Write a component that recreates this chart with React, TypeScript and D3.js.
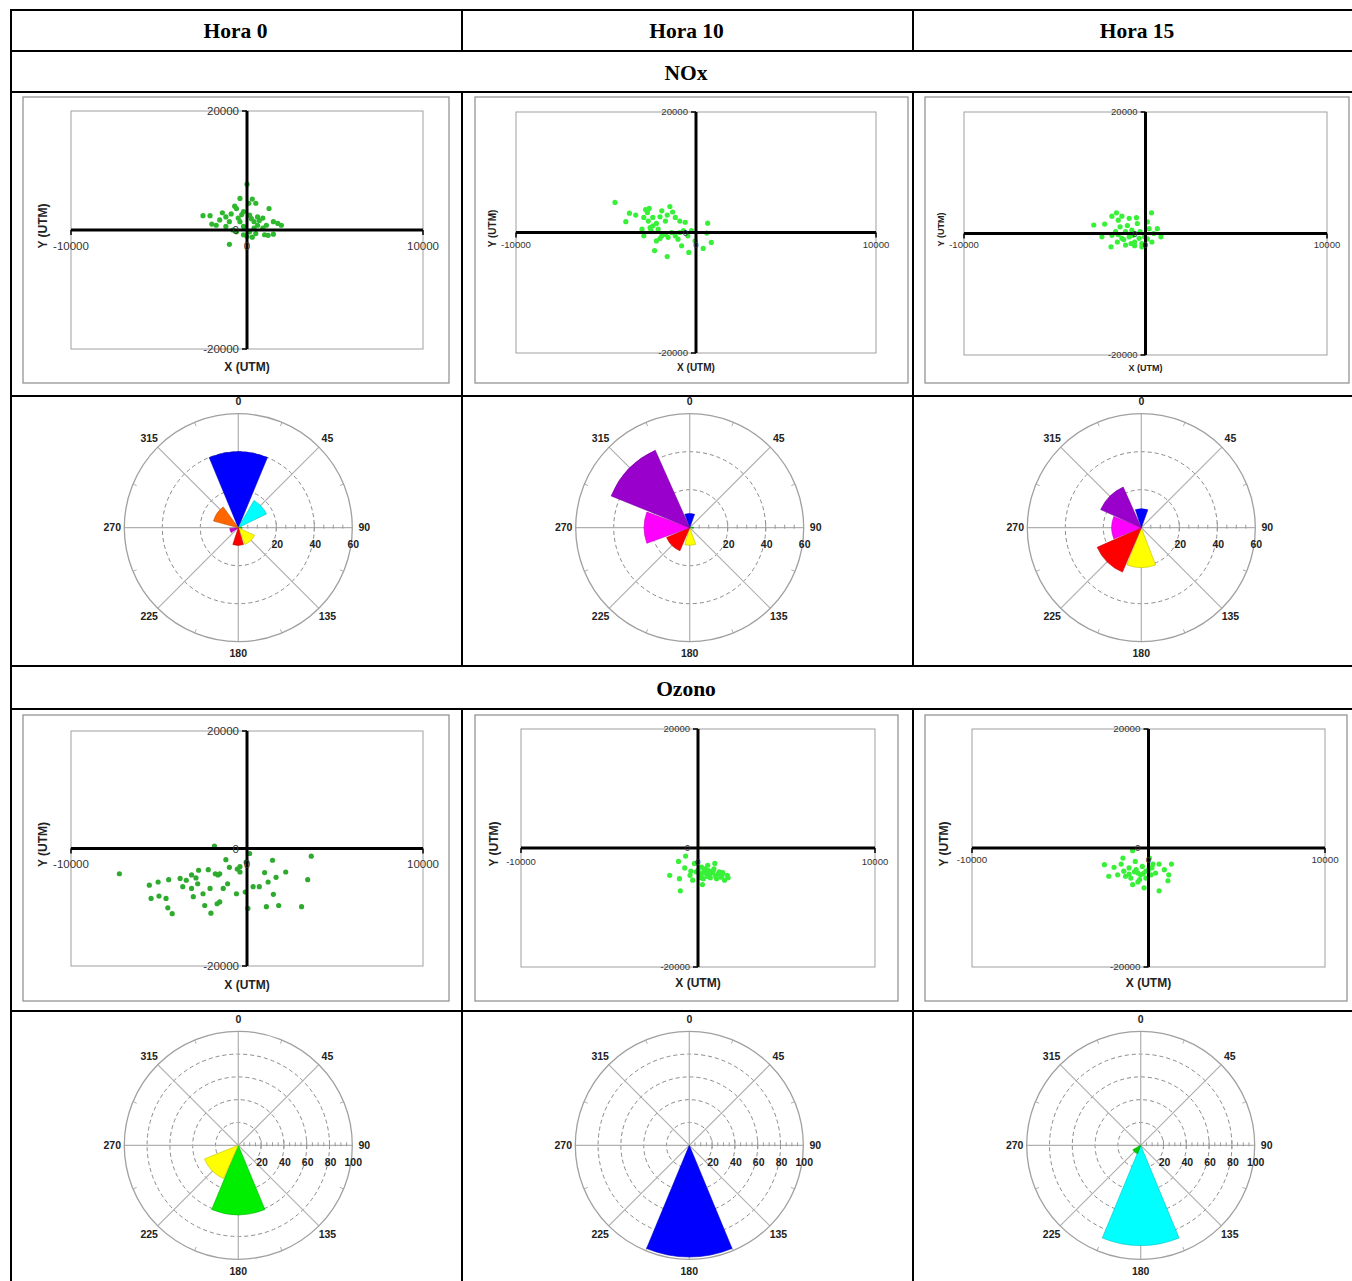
import React from "react";
import * as d3 from "d3";

// table headings
const hours = ["Hora 0", "Hora 10", "Hora 15"];
const pollutants = ["NOx", "Ozono"];

// scatter axes
const xTicks = [-10000, 0, 10000];
const yTicks = [-20000, 0, 20000];

// rose axes
const roseAngles = [0, 45, 90, 135, 180, 225, 270, 315];
const noxRings = [20, 40, 60];
const ozonoRings = [20, 40, 60, 80, 100];

// particle positions [x, y] in UTM metres
const noxH0 = [
  [0, 7700], [-400, 5300], [300, 5200], [100, 4500], [500, 4500], [-700, 4000],
  [-600, 3600], [1250, 3600], [-1400, 2900], [-200, 3100], [-2500, 2400], [-2100, 2400],
  [-1200, 2200], [-500, 2000], [150, 2500], [600, 2200], [900, 2000], [-1550, 1700],
  [-1000, 1400], [-400, 1400], [400, 1400], [1500, 1400], [-2000, 1000], [-1750, 800],
  [-1200, 600], [-200, 600], [600, 800], [1100, 800], [1750, 1100], [1950, 800],
  [-800, 0], [-600, -300], [150, -300], [500, -600], [-200, -800], [1000, -800],
  [1500, -700], [400, 300], [-1000, -2400], [0, -1100], [250, 1900], [700, 1600],
  [-300, 2600], [900, 300], [-900, 2700], [300, -1200], [1200, -900],
];
const noxH10 = [
  [-4500, 5000], [-3700, 3200], [-3900, 1800], [-3350, 2900], [-2800, 3800], [-2600, 4000],
  [-2900, 2500], [-2650, 1900], [-2400, 2500], [-2200, 1500], [-1900, 3600], [-1450, 4300],
  [-1600, 2900], [-1150, 2500], [-900, 1900], [-600, 1700], [-3000, 550], [-2550, 800],
  [-2100, 550], [-1700, -300], [-1350, 0], [-900, 0], [-700, 300], [-250, 300],
  [-2900, -550], [-2200, -1400], [-1550, -800], [-1000, -1100], [-2300, -3000], [-1600, -4000],
  [-400, -3300], [-800, -2200], [-50, -1400], [400, -2650], [650, 1550], [600, -100],
  [850, -1650], [-1900, -550], [-1150, -550], [-450, -550], [-2400, 1100], [-1700, 1900],
  [-2700, 3300], [-2000, 2600], [-1300, 3400], [-2500, 300], [-2000, -1000],
];
const noxH15 = [
  [-2850, 1400], [-2250, 1550], [-1850, 2850], [-1600, 3400], [-1300, 2850], [-1500, 2200],
  [-900, 2500], [-500, 2600], [100, 1900], [330, 3400], [-2400, -550], [-1900, -2200],
  [-1850, -300], [-1400, 1100], [-1300, -800], [-1100, 300], [-800, -1650], [-750, 550],
  [-350, -800], [-200, -1650], [200, 800], [350, -1400], [650, 800], [850, -550],
  [-1550, -1400], [-1100, -1900], [-600, -1400], [-50, -550], [450, 0], [-900, -550],
  [-1650, 300], [-450, 1650], [-200, -2200], [-1200, -1000], [-700, -300], [100, -900],
  [-1000, 1300], [-300, 300], [-1500, -200], [-600, -2000],
];
const ozonoH0 = [
  [-7250, -4300], [-1850, 400], [150, -850], [-1200, -1900], [-50, -2300], [1450, -2000],
  [3650, -1300], [-400, -3100], [-400, -4000], [-1000, -3200], [-1550, -4300], [-1800, -4300],
  [-2200, -3600], [-2750, -3700], [-3150, -4500], [-3800, -5100], [-4450, -5300], [-5050, -5700],
  [-5550, -6250], [-5450, -8500], [-5000, -8100], [-4600, -8500], [-4500, -10100], [-4250, -11100],
  [-3650, -6500], [-3150, -6800], [-2800, -6000], [-3050, -8200], [-2500, -7700], [-2100, -6800],
  [-2400, -9700], [-2050, -11000], [-1550, -9100], [-1100, -6000], [-600, -7700], [-100, -7400],
  [350, -6500], [700, -6500], [1000, -4100], [1200, -5700], [1500, -7800], [1100, -9900],
  [1650, -4900], [1800, -9700], [2200, -4000], [3100, -9900], [3450, -5300], [50, -10200],
  [-3450, -5400], [-1350, -6800], [-1650, -4500], [-2900, -5000], [-1700, -9400], [-550, -3500],
];
const ozonoH10 = [
  [-700, -1350], [-1100, -2250], [-750, -3350], [-1600, -4600], [-1050, -5150], [-1000, -7200],
  [-450, -4600], [-200, -2600], [200, -3200], [550, -2900], [950, -2600], [-100, -4000],
  [100, -4600], [300, -5150], [450, -4000], [650, -4600], [850, -3900], [1150, -4300],
  [1300, -4900], [1500, -5400], [1650, -4600], [250, -6150], [-300, -5400], [0, -3750],
  [400, -3500], [-400, -3900], [1050, -5150], [1400, -4150], [200, -4300], [600, -3800],
  [300, -4200], [500, -4400], [800, -4200], [1000, -4700], [1200, -4000], [700, -5000],
  [350, -3800], [150, -5000], [1350, -4600], [1700, -5000], [900, -3500], [550, -4800],
];
const ozonoH15 = [
  [-900, -450], [50, -1700], [-2500, -2800], [-1950, -3250], [-1550, -2700], [-1400, -3900],
  [-2250, -4750], [-1750, -4500], [-1100, -3350], [-750, -2250], [-600, -4200], [-350, -3100],
  [-150, -3900], [-1000, -5050], [-500, -5300], [-150, -5050], [250, -2700], [600, -2700],
  [1300, -2700], [900, -3650], [1150, -4500], [1100, -5500], [600, -7200], [-250, -6700],
  [-900, -6150], [-1300, -4750], [400, -4200], [150, -4500], [-450, -4500], [-700, -3650],
  [0, -3650], [-1450, -1700], [-800, -4000], [-300, -4300], [-1100, -4400], [200, -3300],
  [-600, -5700],
];

// rose sectors: [from deg, to deg, frequency]
const noxRoseH0 = [[-22.5, 22.5, 40], [30, 64, 16.5], [80, 100, 2], [115, 158, 9.5], [163, 198, 9.3], [235, 265, 4.5], [285, 324, 13.5]];
const noxRoseH10 = [[-20, 20, 7.5], [80, 100, 2], [160, 196, 9.3], [203, 247, 13.2], [250, 290, 24], [292, 336, 44.6]];
const noxRoseH15 = [[-18, 20, 10], [159, 201, 21], [203, 246, 25.4], [248, 292, 15.6], [294, 336, 23.4]];
const ozonoRoseH0 = [[157.5, 202.5, 61], [204, 248, 32]];
const ozonoRoseH10 = [[157.5, 202.5, 98]];
const ozonoRoseH15 = [[157.5, 202.5, 88], [200, 240, 8]];

const noxRoseH0Colors = ["#0000ff", "#00ffff", "#00cc00", "#ffff00", "#ff0000", "#cc00cc", "#ff6600"];
const noxRoseH10Colors = ["#0000ff", "#00cc00", "#ffff00", "#ff0000", "#ff00ff", "#9900cc"];
const noxRoseH15Colors = ["#0000ff", "#ffff00", "#ff0000", "#ff00ff", "#9900cc"];
const ozonoRoseH0Colors = ["#00ee00", "#ffff00"];
const ozonoRoseH10Colors = ["#0000ff"];
const ozonoRoseH15Colors = ["#00ffff", "#00cc00"];

const colX = [11, 462, 913, 1363];
const rowY = [10, 51, 92, 396, 666, 709, 1011];

const scatterPanels = [
  { frame: [23, 97, 449, 383], plot: [71, 111, 423, 349], font: 11.5, title: 12, tx: 367, ty: 43, dot: "#2eb82e", lab: 16 },
  { frame: [475, 97, 908, 383], plot: [516, 112, 876, 353], font: 9.6, title: 10, tx: 367, ty: 492, dot: "#38f038", lab: 12 },
  { frame: [925, 97, 1349, 383], plot: [964, 112, 1327, 355], font: 9.5, title: 9, tx: 368, ty: 941, dot: "#38f038", lab: 11 },
  { frame: [23, 715, 449, 1001], plot: [71, 731, 423, 966], font: 11.5, title: 12, tx: 985, ty: 43, dot: "#2eab2e", lab: 15 },
  { frame: [475, 715, 898, 1001], plot: [521, 729, 875, 967], font: 9.5, title: 12, tx: 983, ty: 494, dot: "#38f038", lab: 14 },
  { frame: [925, 715, 1347, 1001], plot: [972, 729, 1325, 967], font: 9.8, title: 12, tx: 983, ty: 944, dot: "#38f038", lab: 12 },
];

const scatterData = [noxH0, noxH10, noxH15, ozonoH0, ozonoH10, ozonoH15];

const roseCenters = [
  [238.3, 527.7], [689.7, 527.7], [1141.3, 527.7],
  [238.3, 1145.3], [689.3, 1145.3], [1140.7, 1145.3],
];
const roseData = [noxRoseH0, noxRoseH10, noxRoseH15, ozonoRoseH0, ozonoRoseH10, ozonoRoseH15];
const roseColors = [noxRoseH0Colors, noxRoseH10Colors, noxRoseH15Colors, ozonoRoseH0Colors, ozonoRoseH10Colors, ozonoRoseH15Colors];

const sans = "Arial, 'Liberation Sans', Helvetica, sans-serif";

function Scatter({ p, points }) {
  const x = d3.scaleLinear().domain([xTicks[0], xTicks[2]]).range([p.plot[0], p.plot[2]]);
  const y = d3.scaleLinear().domain([yTicks[0], yTicks[2]]).range([p.plot[3], p.plot[1]]);
  const x0 = x(0);
  const y0 = y(0);
  return (
    <g fontFamily={sans}>
      <rect x={p.frame[0]} y={p.frame[1]} width={p.frame[2] - p.frame[0]} height={p.frame[3] - p.frame[1]}
        fill="#fff" stroke="#8c8c8c" strokeWidth={1.2} />
      <rect x={p.plot[0]} y={p.plot[1]} width={p.plot[2] - p.plot[0]} height={p.plot[3] - p.plot[1]}
        fill="none" stroke="#a0a0a0" strokeWidth={1} />
      {points.map((d, i) => (
        <circle key={i} cx={x(d[0])} cy={y(d[1])} r={2.6} fill={p.dot} />
      ))}
      <line x1={x(xTicks[0])} x2={x(xTicks[2])} y1={y0} y2={y0} stroke="#000" strokeWidth={3} />
      <line x1={x0} x2={x0} y1={y(yTicks[0])} y2={y(yTicks[2])} stroke="#000" strokeWidth={3} />
      {yTicks.map((t) => (
        <g key={"y" + t}>
          <line x1={x0 - 5} x2={x0} y1={y(t)} y2={y(t)} stroke="#000" strokeWidth={1.5} />
          <text x={x0 - 8} y={y(t)} dy="0.35em" textAnchor="end" fontSize={p.font} fill="#333">{t}</text>
        </g>
      ))}
      {xTicks.map((t) => (
        <g key={"x" + t}>
          <line x1={x(t)} x2={x(t)} y1={y0} y2={y0 + 5} stroke="#000" strokeWidth={1.5} />
          <text x={x(t)} y={y0 + p.lab} dy="0.35em" textAnchor="middle" fontSize={p.font} fill="#333">{t}</text>
        </g>
      ))}
      <text x={x0} y={p.tx} dy="0.35em" textAnchor="middle" fontSize={p.title} fontWeight="bold" fill="#222">X (UTM)</text>
      <text transform={`translate(${p.ty},${y0 - 4}) rotate(-90)`} textAnchor="middle" dy="0.35em"
        fontSize={p.title} fontWeight="bold" fill="#222">Y (UTM)</text>
    </g>
  );
}

function Rose({ cx, cy, rings, sectors, colors }) {
  const R = 114;
  const max = rings[rings.length - 1];
  const r = d3.scaleLinear().domain([0, max]).range([0, R]);
  const arc = d3.arc();
  const rad = (a) => (a * Math.PI) / 180;
  const minor = d3.range(5, max, 5);
  return (
    <g transform={`translate(${cx},${cy})`} fontFamily={sans}>
      {rings.slice(0, -1).map((v) => (
        <circle key={v} r={r(v)} fill="none" stroke="#8a8a8a" strokeWidth={1} strokeDasharray="4 3" />
      ))}
      {roseAngles.map((a) => (
        <line key={a} x1={0} y1={0} x2={R * Math.sin(rad(a))} y2={-R * Math.cos(rad(a))} stroke="#b0b0b0" strokeWidth={1.2} />
      ))}
      {roseAngles.map((a) => {
        const b = a + 22.5;
        return (
          <line key={"t" + a} x1={(R - 4) * Math.sin(rad(b))} y1={-(R - 4) * Math.cos(rad(b))}
            x2={R * Math.sin(rad(b))} y2={-R * Math.cos(rad(b))} stroke="#b0b0b0" strokeWidth={1} />
        );
      })}
      {minor.map((v) => (
        <line key={"m" + v} x1={r(v)} x2={r(v)} y1={v % 20 === 0 ? -5 : -3} y2={v % 20 === 0 ? 3 : 1} stroke="#999" strokeWidth={1} />
      ))}
      <circle r={R} fill="none" stroke="#a0a0a0" strokeWidth={1.3} />
      {sectors.map((s, i) => (
        <path key={i}
          d={arc({ innerRadius: 0, outerRadius: r(s[2]), startAngle: rad(s[0]), endAngle: rad(s[1]) })}
          fill={colors[i]} stroke={d3.color(colors[i]).darker(0.8).formatHex()} strokeWidth={0.6} />
      ))}
      {roseAngles.map((a) => (
        <text key={"l" + a} x={126 * Math.sin(rad(a))} y={-126 * Math.cos(rad(a))} dy="0.35em"
          textAnchor="middle" fontSize={10.5} fontWeight="bold" fill="#222">{a}</text>
      ))}
      {rings.map((v) => (
        <text key={"r" + v} x={r(v) + 1} y={17} dy="0.35em" textAnchor="middle" fontSize={10.5} fontWeight="bold" fill="#222">{v}</text>
      ))}
    </g>
  );
}

export default function App() {
  const serif = "'Liberation Serif', 'Times New Roman', serif";
  return (
    <svg width={1352} height={1281} style={{ position: "absolute", left: 0, top: 0, background: "#fff" }}>
      <rect width={1352} height={1281} fill="#fff" />
      {scatterPanels.map((p, i) => (
        <Scatter key={i} p={p} points={scatterData[i]} />
      ))}
      {roseCenters.map((c, i) => (
        <Rose key={i} cx={c[0]} cy={c[1]} rings={i < 3 ? noxRings : ozonoRings} sectors={roseData[i]} colors={roseColors[i]} />
      ))}
      {/* table grid */}
      <g stroke="#000" strokeWidth={2}>
        {rowY.map((y) => (
          <line key={y} x1={colX[0] - 1} x2={colX[3]} y1={y} y2={y} />
        ))}
        <line x1={colX[0]} x2={colX[0]} y1={rowY[0]} y2={1290} />
        {[1, 2].map((c) => (
          <g key={c}>
            <line x1={colX[c]} x2={colX[c]} y1={rowY[0]} y2={rowY[1]} />
            <line x1={colX[c]} x2={colX[c]} y1={rowY[2]} y2={rowY[4]} />
            <line x1={colX[c]} x2={colX[c]} y1={rowY[5]} y2={1290} />
          </g>
        ))}
      </g>
      <g fontFamily={serif} fontWeight="bold" fontSize={21.5} textAnchor="middle" fill="#000">
        {hours.map((h, i) => (
          <text key={h} x={(colX[i] + colX[i + 1]) / 2 - 1} y={37.5}>{h}</text>
        ))}
        <text x={(colX[0] + colX[3]) / 2 - 1} y={79.5}>{pollutants[0]}</text>
        <text x={(colX[0] + colX[3]) / 2 - 1} y={695.5}>{pollutants[1]}</text>
      </g>
    </svg>
  );
}
